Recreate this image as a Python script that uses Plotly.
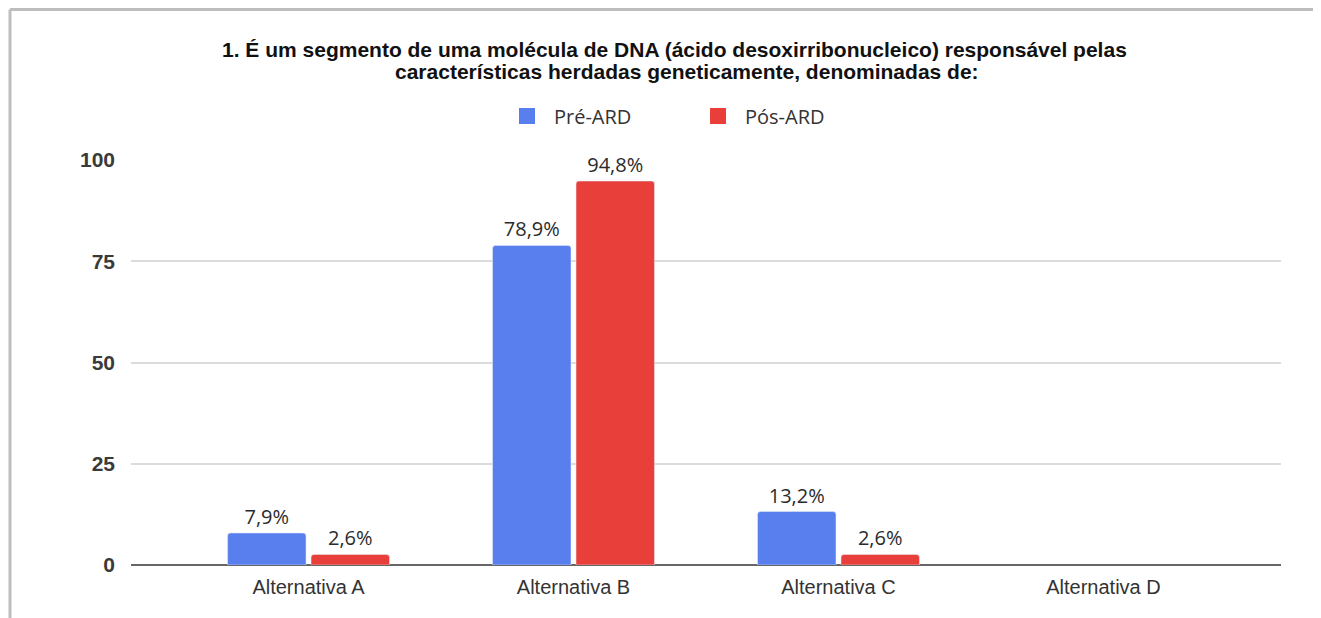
import plotly.graph_objects as go

# dados
categorias = ["Alternativa A", "Alternativa B", "Alternativa C", "Alternativa D"]
pre_ard = [7.9, 78.9, 13.2, None]
pos_ard = [2.6, 94.8, 2.6, None]
series_nomes = ["Pré-ARD", "Pós-ARD"]
y_ticks = [0, 25, 50, 75, 100]

titulo_l1 = "1. É um segmento de uma molécula de DNA (ácido desoxirribonucleico) responsável pelas"
titulo_l2 = "características herdadas geneticamente, denominadas de:"

AZUL = "#597EEE"
VERMELHO = "#E83F3B"

# a página tem 8px de margem no body, então a figura é 8px menor
W, H = 1313, 610
L, T, PW, PH = 123, 152, 1150, 405


def px(sx):
    # coordenada de tela -> paper x
    return (sx - 8 - L) / PW


def py(sy):
    # coordenada de tela -> paper y
    return (T + PH - (sy - 8)) / PH


def rotulo(v):
    return f"{v:.1f}%".replace(".", ",") if v else ""


fig = go.Figure()

for nome, valores, cor in [(series_nomes[0], pre_ard, AZUL), (series_nomes[1], pos_ard, VERMELHO)]:
    fig.add_trace(go.Bar(
        x=categorias,
        y=valores,
        name=nome,
        marker=dict(color=cor, cornerradius=3),
        text=[rotulo(v) for v in valores],
        textposition="outside",
        textfont=dict(family="Open Sans", size=20, color="#2b2b2b"),
        cliponaxis=False,
        showlegend=False,
    ))
    # quadradinhos da legenda
    fig.add_trace(go.Scatter(
        x=[None], y=[None], mode="markers", name=nome,
        marker=dict(symbol="square", size=18, color=cor),
    ))

fig.update_layout(
    width=W, height=H,
    margin=dict(l=L, r=W - L - PW, t=T, b=H - T - PH),
    paper_bgcolor="white",
    plot_bgcolor="white",
    barmode="group",
    bargap=0.37,
    bargroupgap=0.06,
    legend=dict(
        orientation="h",
        x=px(500), xanchor="left",
        y=py(116), yanchor="middle",
        font=dict(family="Open Sans", size=20, color="#333333"),
        itemwidth=44,
        entrywidth=132,
        entrywidthmode="pixels",
    ),
    xaxis=dict(
        range=[-0.67, 3.67],
        showgrid=False,
        showline=False,
        ticks="",
        ticklabelstandoff=8,
        tickfont=dict(family="Liberation Sans", size=20, color="#333333"),
    ),
    yaxis=dict(
        range=[0, 100],
        tickvals=y_ticks,
        gridcolor="#dcdcdc",
        gridwidth=1.5,
        zeroline=True,
        zerolinecolor="#666666",
        zerolinewidth=2,
        ticks="",
        ticklabelstandoff=15,
        tickfont=dict(family="Liberation Sans", size=21, color="#3a3a3a", weight="bold"),
    ),
    annotations=[
        dict(text=titulo_l1, xref="paper", yref="paper", x=px(674), y=py(50),
             xanchor="center", yanchor="middle", showarrow=False,
             font=dict(family="Liberation Sans", size=21, color="#111111", weight="bold")),
        dict(text=titulo_l2, xref="paper", yref="paper", x=px(687), y=py(71),
             xanchor="center", yanchor="middle", showarrow=False,
             font=dict(family="Liberation Sans", size=21, color="#111111", weight="bold")),
    ],
    shapes=[
        # moldura (borda esquerda e superior)
        dict(type="line", xref="paper", yref="paper",
             x0=px(10), x1=px(10), y0=py(9.5), y1=py(630),
             line=dict(color="#bdbdbd", width=3)),
        dict(type="line", xref="paper", yref="paper",
             x0=px(10), x1=px(1330), y0=py(9.5), y1=py(9.5),
             line=dict(color="#bdbdbd", width=3)),
    ],
)

fig.write_html("out.html")
